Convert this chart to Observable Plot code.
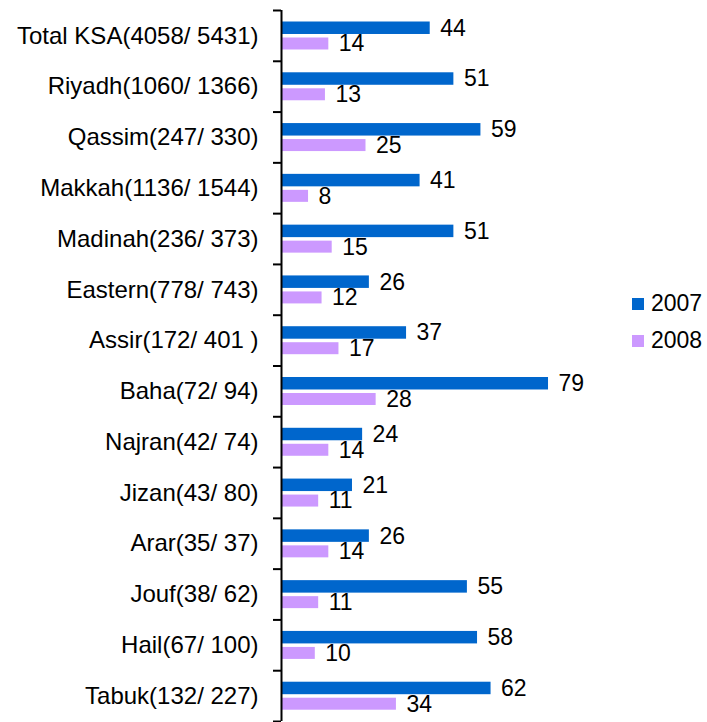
<!DOCTYPE html>
<html><head><meta charset="utf-8">
<script src="https://cdn.jsdelivr.net/npm/d3@7"></script>
<script src="https://cdn.jsdelivr.net/npm/@observablehq/plot@0.6"></script>
<style>
body{margin:0;background:#fff;font-family:Arial,"Liberation Sans",sans-serif;}
#wrap{position:relative;width:707px;height:722px;}
.legend{position:absolute;left:632px;top:285px;font-size:23px;color:#000;}
.legend div{display:flex;align-items:center;height:37px;}
.legend span.sw{display:inline-block;width:12px;height:12px;margin-right:7px;}
</style></head><body><div id="wrap"></div>
<script>
const regions = ["Total KSA(4058/ 5431)","Riyadh(1060/ 1366)","Qassim(247/ 330)","Makkah(1136/ 1544)","Madinah(236/ 373)","Eastern(778/ 743)","Assir(172/ 401 )","Baha(72/ 94)","Najran(42/ 74)","Jizan(43/ 80)","Arar(35/ 37)","Jouf(38/ 62)","Hail(67/ 100)","Tabuk(132/ 227)"];
const values2007 = [44,51,59,41,51,26,37,79,24,21,26,55,58,62];
const values2008 = [14,13,25,8,15,12,17,28,14,11,14,11,10,34];
const series = ["2007","2008"];
const colors = ["#0066CC","#CC99FF"];

const d07 = regions.map((r,i)=>({region:r, year:"2007", value:values2007[i]}));
const d08 = regions.map((r,i)=>({region:r, year:"2008", value:values2008[i]}));

const chart = Plot.plot({
  width:707, height:722,
  marginLeft:281, marginRight:88, marginTop:10, marginBottom:1,
  style:{fontFamily:"Arial, 'Liberation Sans', sans-serif", fontSize:"23px", color:"#000", background:"#fff"},
  x:{domain:[0,100], axis:null},
  y:{domain:regions, padding:0, round:false, label:null},
  color:{domain:series, range:colors},
  marks:[
    Plot.barX(d07,{x:"value", y:"region", fill:"year", insetTop:11.5, insetBottom:26.8}),
    Plot.barX(d08,{x:"value", y:"region", fill:"year", insetTop:27.5, insetBottom:11.3}),
    Plot.text(d07,{x:"value", y:"region", text:d=>String(d.value), dx:10, dy:-7.6, textAnchor:"start", fontSize:23, fill:"#000"}),
    Plot.text(d08,{x:"value", y:"region", text:d=>String(d.value), dx:10, dy:8.1, textAnchor:"start", fontSize:23, fill:"#000"}),
    Plot.axisY({tickSize:0, tickPadding:23, fontSize:24, label:null}),
    Plot.axisY({tickSize:8, tickFormat:()=>"", dy:-25.4, strokeWidth:2, label:null}),
    Plot.axisY({ticks:[regions[regions.length-1]], tickSize:8, tickFormat:()=>"", dy:25.4, strokeWidth:2, label:null}),
    Plot.ruleX([0],{strokeWidth:2})
  ]
});
const wrap = document.getElementById("wrap");
wrap.appendChild(chart);
const leg = document.createElement("div");
leg.className = "legend";
series.forEach((s,i)=>{
  const row = document.createElement("div");
  const sw = document.createElement("span");
  sw.className = "sw"; sw.style.background = colors[i];
  row.appendChild(sw);
  row.appendChild(document.createTextNode(s));
  leg.appendChild(row);
});
wrap.appendChild(leg);
</script></body></html>
